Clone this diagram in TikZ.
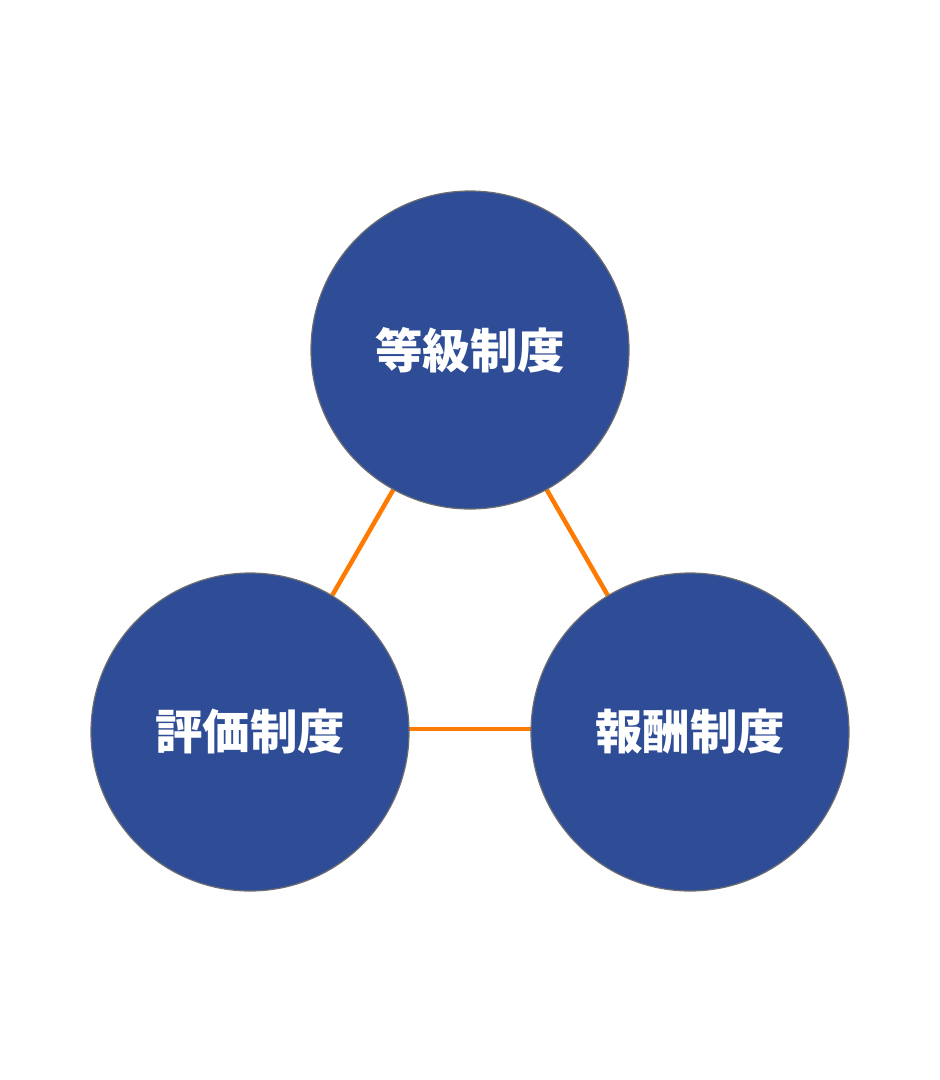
\documentclass[tikz,border=0pt]{standalone}
\usepackage{fontspec}
\newfontfamily\cjk{Noto Sans CJK JP}
\definecolor{cfill}{HTML}{2E4D96}
\definecolor{cedge}{HTML}{6E6E70}
\definecolor{corange}{HTML}{FF7A00}
\begin{document}
\begin{tikzpicture}[x=1pt,y=-1pt,
  sys/.style={circle,fill=cfill,draw=cedge,line width=1.2pt,minimum size=318pt,inner sep=0pt,text=white,font=\cjk\bfseries\fontsize{47.5}{52}\selectfont},
  link/.style={draw=corange,line width=4.5pt}]
\useasboundingbox (0,0) rectangle (940,1080);
\coordinate (ct) at (470,357);
\coordinate (cl) at (255,729);
\coordinate (cr) at (685,729);
\draw[link] (ct) -- (cl);
\draw[link] (ct) -- (cr);
\draw[link] (cl) -- (cr);
\node[sys] (top) at (470,350) {等級制度};
\node[sys] (left) at (250,732) {評価制度};
\node[sys] (right) at (690,732) {報酬制度};
\end{tikzpicture}
\end{document}
